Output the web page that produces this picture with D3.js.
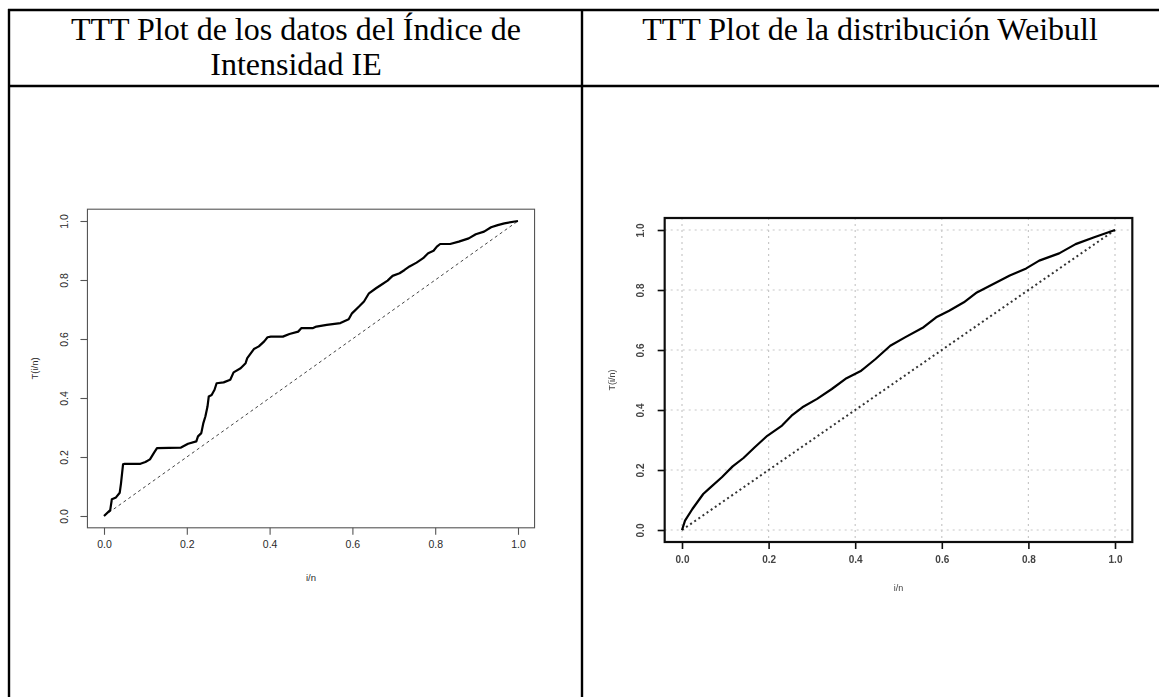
<!DOCTYPE html>
<html>
<head>
<meta charset="utf-8">
<script src="https://cdn.jsdelivr.net/npm/d3@7"></script>
<style>
  body { margin: 0; background: #fff; }
  svg { display: block; }
</style>
</head>
<body>
<svg id="chart" width="1159" height="697"></svg>
<script>
// titles of the two table cells
const leftTitle = ["TTT Plot de los datos del \u00CDndice de", "Intensidad IE"];
const rightTitle = ["TTT Plot de la distribuci\u00F3n Weibull"];

// ticks used on both axes of both plots
const tickValues = [0, 0.2, 0.4, 0.6, 0.8, 1.0];

const leftX = [0, 0.015, 0.019, 0.029, 0.038, 0.041, 0.046, 0.05, 0.088, 0.1,
  0.111, 0.121, 0.128, 0.186, 0.203, 0.223, 0.227, 0.235, 0.24, 0.245,
  0.25, 0.253, 0.26, 0.267, 0.272, 0.289, 0.305, 0.313, 0.33, 0.342,
  0.346, 0.362, 0.374, 0.387, 0.395, 0.403, 0.432, 0.448, 0.469, 0.477,
  0.505, 0.513, 0.538, 0.571, 0.591, 0.599, 0.616, 0.628, 0.64, 0.657,
  0.669, 0.685, 0.697, 0.714, 0.726, 0.738, 0.755, 0.771, 0.783, 0.796,
  0.804, 0.812, 0.836, 0.857, 0.881, 0.898, 0.918, 0.935, 0.951, 0.967, 1.0];
const leftY = [0, 0.02, 0.057, 0.063, 0.079, 0.11, 0.175, 0.177, 0.177, 0.183,
  0.192, 0.215, 0.23, 0.232, 0.245, 0.253, 0.27, 0.281, 0.315, 0.338,
  0.371, 0.405, 0.41, 0.428, 0.45, 0.453, 0.462, 0.487, 0.501, 0.518,
  0.535, 0.566, 0.575, 0.592, 0.606, 0.608, 0.608, 0.617, 0.625, 0.637,
  0.637, 0.642, 0.648, 0.654, 0.667, 0.687, 0.71, 0.727, 0.755, 0.772,
  0.783, 0.798, 0.814, 0.823, 0.834, 0.846, 0.859, 0.874, 0.891, 0.899,
  0.913, 0.922, 0.922, 0.93, 0.941, 0.955, 0.964, 0.979, 0.986, 0.992, 1.0];

// TTT curve of the Weibull distribution
const rightX = [0, 0.007, 0.024, 0.049, 0.062, 0.092, 0.117, 0.142, 0.168, 0.197,
  0.231, 0.253, 0.278, 0.312, 0.346, 0.38, 0.414, 0.447, 0.481, 0.515,
  0.558, 0.587, 0.617, 0.651, 0.681, 0.719, 0.757, 0.795, 0.825, 0.871,
  0.909, 0.952, 1.0];
const rightY = [0, 0.031, 0.07, 0.12, 0.137, 0.176, 0.212, 0.24, 0.276, 0.314,
  0.348, 0.381, 0.409, 0.437, 0.47, 0.506, 0.531, 0.57, 0.614, 0.642,
  0.676, 0.709, 0.731, 0.759, 0.792, 0.82, 0.848, 0.872, 0.898, 0.922,
  0.953, 0.976, 1.0];

// reference diagonal
const diagX = [0, 1];
const diagY = [0, 1];

const svg = d3.select("#chart");

// blur for the fuzzy right hand plot
const defs = svg.append("defs");
defs.append("filter").attr("id", "soft")
  .append("feGaussianBlur").attr("stdDeviation", 0.55);

// ---- table ----
const table = svg.append("g").attr("stroke", "#000").attr("stroke-width", 2.4);
table.append("line").attr("x1", 8).attr("x2", 1159).attr("y1", 10).attr("y2", 10);
table.append("line").attr("x1", 8).attr("x2", 1159).attr("y1", 86).attr("y2", 86);
table.append("line").attr("x1", 9).attr("x2", 9).attr("y1", 9).attr("y2", 697);
table.append("line").attr("x1", 582).attr("x2", 582).attr("y1", 9).attr("y2", 697);

function drawTitle(lines, cx){
  svg.append("text")
    .attr("text-anchor", "middle")
    .style("font-family", "'Liberation Serif', 'Times New Roman', serif")
    .style("font-size", "32px")
    .selectAll("tspan")
    .data(lines)
    .join("tspan")
    .attr("x", cx)
    .attr("y", (d, i) => 40 + i * 35)
    .text(d => d);
}
drawTitle(leftTitle, 296);
drawTitle(rightTitle, 870);

// ---- a TTT plot in R style ----
function drawPlot(opt){
  const g = svg.append("g");
  if(opt.blur) g.attr("filter", "url(#soft)");

  const xScale = d3.scaleLinear().domain([0, 1]).range([opt.x0, opt.x1]);
  const yScale = d3.scaleLinear().domain([0, 1]).range([opt.y0, opt.y1]);
  const padX = (opt.x1 - opt.x0) * 0.04;
  const padY = (opt.y0 - opt.y1) * 0.04;
  const left = opt.x0 - padX, right = opt.x1 + padX;
  const top = opt.y1 - padY, bottom = opt.y0 + padY;

  if(opt.grid){
    const gr = g.append("g")
      .attr("stroke", "#c8c8c8").attr("stroke-width", 1.2)
      .attr("stroke-dasharray", "2,4");
    gr.selectAll(".gx").data(tickValues).join("line")
      .attr("x1", d => xScale(d)).attr("x2", d => xScale(d))
      .attr("y1", top).attr("y2", bottom);
    gr.selectAll(".gy").data(tickValues).join("line")
      .attr("y1", d => yScale(d)).attr("y2", d => yScale(d))
      .attr("x1", left).attr("x2", right);
  }

  // diagonal
  const diag = d3.range(diagX.length).map(i => [diagX[i], diagY[i]]);
  g.append("path")
    .datum(diag)
    .style("fill", "none")
    .style("stroke", opt.diagColor)
    .style("stroke-width", opt.diagWidth)
    .style("stroke-dasharray", opt.diagDash)
    .attr("d", d3.line().x(d => xScale(d[0])).y(d => yScale(d[1])));

  // curve
  const pts = d3.range(opt.xs.length).map(i => [opt.xs[i], opt.ys[i]]);
  g.append("path")
    .datum(pts)
    .style("fill", "none")
    .style("stroke", "#000")
    .style("stroke-width", opt.curveWidth)
    .style("stroke-linejoin", "round")
    .attr("d", d3.line().x(d => xScale(d[0])).y(d => yScale(d[1])));

  // frame
  g.append("rect")
    .attr("x", left).attr("y", top)
    .attr("width", right - left).attr("height", bottom - top)
    .style("fill", "none")
    .style("stroke", opt.frameColor)
    .style("stroke-width", opt.frameWidth);

  // axes
  const xAxis = g.append("g")
    .attr("transform", "translate(0," + bottom + ")")
    .call(d3.axisBottom(xScale).tickValues(tickValues).tickFormat(d3.format(".1f"))
      .tickSize(7).tickPadding(opt.xPad));
  const yAxis = g.append("g")
    .attr("transform", "translate(" + left + ",0)")
    .call(d3.axisLeft(yScale).tickValues(tickValues).tickFormat(d3.format(".1f"))
      .tickSize(7));
  [xAxis, yAxis].forEach(a => {
    a.select(".domain").remove();
    a.selectAll("line").attr("stroke", opt.frameColor).attr("stroke-width", opt.tickWidth);
    a.selectAll("text")
      .style("font-family", "'Liberation Sans', Arial, sans-serif")
      .style("font-size", opt.fontSize + "px")
      .style("font-weight", opt.fontWeight)
      .attr("fill", opt.textColor);
  });
  yAxis.selectAll("text")
    .attr("x", 0).attr("y", -opt.yPad).attr("dy", 0)
    .attr("text-anchor", "middle")
    .attr("transform", "rotate(-90)");

  // axis titles
  g.append("text")
    .attr("x", (left + right) / 2).attr("y", opt.xLabelY)
    .attr("text-anchor", "middle")
    .style("font-family", "'Liberation Sans', Arial, sans-serif")
    .style("font-size", opt.labelSize + "px")
    .attr("fill", opt.textColor)
    .text("i/n");
  g.append("text")
    .attr("transform", "translate(" + opt.yLabelX + "," + (top + bottom) / 2 + ")rotate(-90)")
    .attr("text-anchor", "middle")
    .style("font-family", "'Liberation Sans', Arial, sans-serif")
    .style("font-size", opt.labelSize + "px")
    .attr("fill", opt.textColor)
    .text("T(i/n)");
}

drawPlot({
  xs: leftX, ys: leftY,
  x0: 104, x1: 518, y0: 516, y1: 221,
  grid: false, blur: false,
  frameColor: "#555", frameWidth: 1.1, tickWidth: 1.1,
  curveWidth: 2.2,
  diagColor: "#444", diagWidth: 1, diagDash: "3,3",
  fontSize: 10.5, labelSize: 9.5, fontWeight: "normal", textColor: "#2a2a2a",
  xPad: 6, yPad: 19, xLabelY: 581, yLabelX: 38
});

drawPlot({
  xs: rightX, ys: rightY,
  x0: 682, x1: 1115, y0: 530, y1: 230,
  grid: true, blur: true,
  frameColor: "#111", frameWidth: 2.2, tickWidth: 1.6,
  curveWidth: 2.2,
  diagColor: "#333", diagWidth: 2, diagDash: "2,3",
  fontSize: 10, labelSize: 9, fontWeight: "bold", textColor: "#444",
  xPad: 7, yPad: 21, xLabelY: 591, yLabelX: 615
});
</script>
</body>
</html>
